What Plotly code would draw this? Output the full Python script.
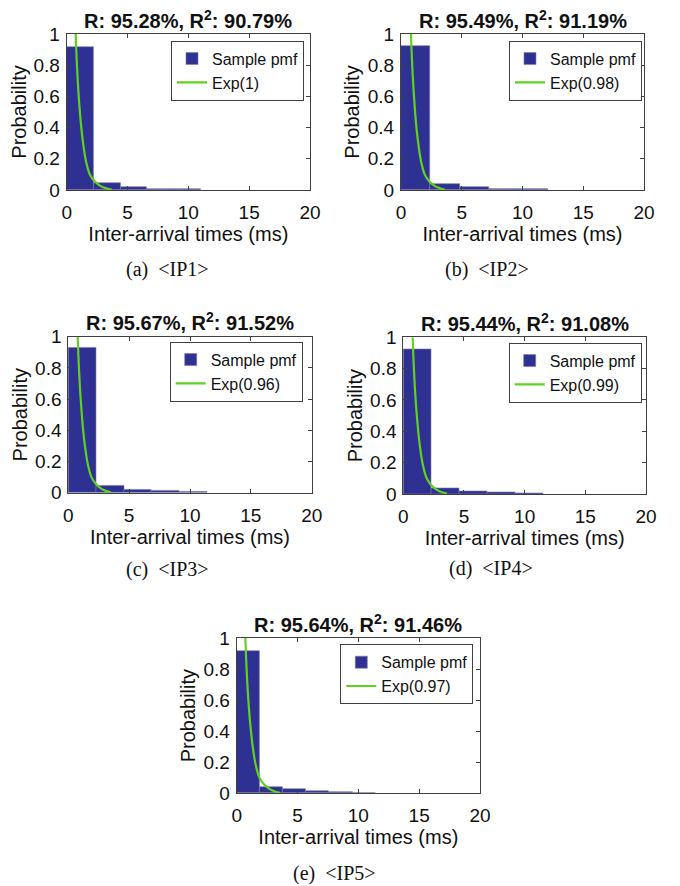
import plotly.graph_objects as go

# ---------------- data ----------------
captions = ["(a)\u2002&lt;IP1&gt;", "(b)\u2002&lt;IP2&gt;",
            "(c)\u2002&lt;IP3&gt;", "(d)\u2002&lt;IP4&gt;",
            "(e)\u2002&lt;IP5&gt;"]
titles = ["R: 95.28%, R<sup>2</sup>: 90.79%", "R: 95.49%, R<sup>2</sup>: 91.19%",
          "R: 95.67%, R<sup>2</sup>: 91.52%", "R: 95.44%, R<sup>2</sup>: 91.08%",
          "R: 95.64%, R<sup>2</sup>: 91.46%"]
exp_labels = ["Exp(1)", "Exp(0.98)", "Exp(0.96)", "Exp(0.99)", "Exp(0.97)"]

# histogram bins (left edges, ms) and sample pmf heights
a_left = [0, 2.2, 4.4, 6.6, 8.8]
a_prob = [0.919, 0.043, 0.017, 0.009, 0.004]
b_left = [0, 2.42, 4.84, 7.26, 9.68]
b_prob = [0.923, 0.041, 0.019, 0.009, 0.004]
c_left = [0, 2.28, 4.56, 6.84, 9.12]
c_prob = [0.932, 0.043, 0.019, 0.011, 0.004]
d_left = [0, 2.3, 4.6, 6.9, 9.2]
d_prob = [0.923, 0.036, 0.019, 0.009, 0.004]
e_left = [0, 1.9, 3.8, 5.7, 7.6, 9.5]
e_prob = [0.916, 0.041, 0.026, 0.015, 0.009, 0.004]
bin_widths = [2.2, 2.42, 2.28, 2.3, 1.9]

# fitted exponential curves
curve_y = [1.0, 0.79, 0.61, 0.40, 0.27, 0.18, 0.10, 0.056, 0.025, 0.010, 0.003]
a_cx = [0.74, 0.85, 0.98, 1.2, 1.4, 1.6, 1.9, 2.3, 2.8, 3.3, 3.7]
b_cx = [0.82, 0.93, 1.06, 1.27, 1.47, 1.66, 1.95, 2.32, 2.8, 3.25, 3.6]
c_cx = [0.77, 0.88, 1.01, 1.22, 1.42, 1.61, 1.9, 2.27, 2.73, 3.15, 3.5]
d_cx = [0.77, 0.88, 1.01, 1.23, 1.43, 1.63, 1.93, 2.31, 2.8, 3.25, 3.6]
e_cx = [0.71, 0.82, 0.95, 1.17, 1.37, 1.57, 1.87, 2.26, 2.75, 3.2, 3.56]

lefts = [a_left, b_left, c_left, d_left, e_left]
probs = [a_prob, b_prob, c_prob, d_prob, e_prob]
curve_xs = [a_cx, b_cx, c_cx, d_cx, e_cx]

x_ticks = [0, 5, 10, 15, 20]
y_ticks = [0, 0.2, 0.4, 0.6, 0.8, 1]
y_ticklabels = ["0", "0.2", "0.4", "0.6", "0.8", "1"]

# ---------------- layout (pixel boxes in the 680x886 window) ----------------
OFF = 8  # page body margin
W, H = 680 - OFF, 886 - OFF
boxes = [(66.7, 310, 34, 190), (401, 644, 34, 190),
         (68.3, 311.7, 336.7, 492.7), (403.3, 646, 337.3, 494),
         (236.7, 480, 638, 793.3)]
legend_tr = [(304, 40.7), (642, 40.7), (302.7, 341.7), (641.7, 342.7), (473.3, 644.3)]
caption_pos = [(167, 269), (487, 269), (167, 569), (491, 568), (334, 873)]


def px(v):
    return (v - OFF) / W


def py(v):
    return 1 - (v - OFF) / H


BAR = "#2e3192"
GREEN = "#5fd21e"
AX = "#404040"
SANS = "Liberation Sans, Arial, sans-serif"
SERIF = "Liberation Serif, Times New Roman, serif"

fig = go.Figure()
layout = dict(width=W, height=H, margin=dict(l=0, r=0, t=0, b=0),
              paper_bgcolor="white", plot_bgcolor="white", showlegend=True,
              bargap=0, annotations=[])

for i in range(5):
    n = "" if i == 0 else str(i + 1)
    xa, ya = "x" + n, "y" + n
    leg = "legend" + n
    w = bin_widths[i]
    fig.add_trace(go.Bar(x=lefts[i], y=probs[i], width=[w] * len(lefts[i]), offset=0,
                         marker=dict(color=BAR, line=dict(color="#7a7aa8", width=0.6)),
                         name="Sample pmf", xaxis=xa, yaxis=ya, legend=leg))
    fig.add_trace(go.Scatter(x=curve_xs[i], y=curve_y, mode="lines",
                             line=dict(color=GREEN, width=2.2, shape="spline"),
                             name=exp_labels[i], xaxis=xa, yaxis=ya, legend=leg))
    l, r, t, b = boxes[i]
    axcommon = dict(showline=True, linecolor=AX, linewidth=1, mirror="ticks",
                    ticks="inside", ticklen=4, tickcolor=AX, showgrid=False,
                    zeroline=False, automargin=False,
                    tickfont=dict(family=SANS, size=19, color="#111"),
                    title_font=dict(family=SANS, size=20, color="#111"))
    layout["xaxis" + n] = dict(axcommon, domain=[px(l), px(r)], range=[0, 20],
                               tickvals=x_ticks, anchor=ya, ticklabelstandoff=5,
                               title=dict(text="Inter-arrival times (ms)", standoff=2))
    layout["yaxis" + n] = dict(axcommon, domain=[py(b), py(t)], range=[0, 1],
                               tickvals=y_ticks, ticktext=y_ticklabels, anchor=xa,
                               ticklabelstandoff=2,
                               title=dict(text="Probability", standoff=2))
    lx, ly = legend_tr[i]
    layout[leg] = dict(x=px(lx), y=py(ly), xanchor="right", yanchor="top",
                       bordercolor=AX, borderwidth=1, bgcolor="white",
                       font=dict(family=SANS, size=16, color="#111"),
                       tracegroupgap=0, itemwidth=30)
    layout["annotations"].append(dict(
        text="<b>" + titles[i] + "</b>", x=px((l + r) / 2), y=py(t - 15),
        xref="paper", yref="paper", showarrow=False, xanchor="center", yanchor="middle",
        font=dict(family=SANS, size=20, color="#111")))
    cx, cy = caption_pos[i]
    layout["annotations"].append(dict(
        text=captions[i], x=px(cx), y=py(cy), xref="paper", yref="paper",
        showarrow=False, xanchor="center", yanchor="middle",
        font=dict(family=SERIF, size=20, color="#111")))

fig.update_layout(**layout)
fig.write_html("out.html")
